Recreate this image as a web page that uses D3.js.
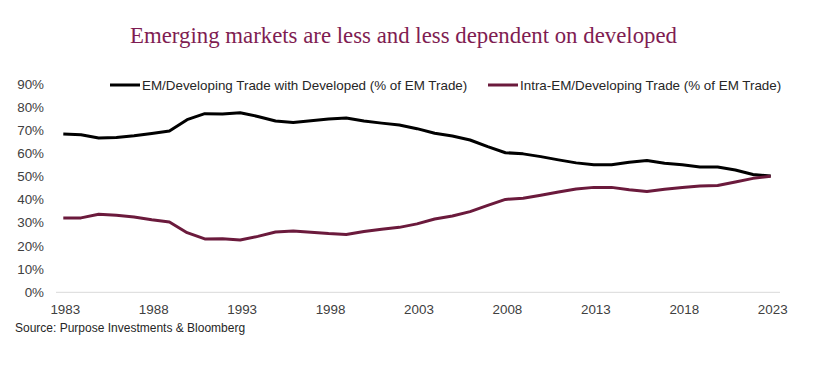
<!DOCTYPE html>
<html><head><meta charset="utf-8">
<script src="https://cdn.jsdelivr.net/npm/d3@7"></script>
<style>body{margin:0;background:#fff}svg{display:block}</style>
</head><body>
<svg id="c" width="825" height="366"></svg>
<script>
const years = d3.range(1983, 2024);
const devShare = [68.5,68.2,66.8,67.0,67.7,68.7,69.8,74.7,77.3,77.1,77.7,76.1,74.1,73.5,74.2,75.0,75.4,74.1,73.2,72.4,70.8,68.8,67.6,65.9,63.0,60.4,59.9,58.7,57.3,56.0,55.2,55.2,56.3,57.0,55.8,55.2,54.2,54.2,52.9,51.0,50.3];
const intraShare = [32.2,32.2,33.8,33.3,32.6,31.4,30.4,25.8,23.1,23.2,22.6,24.2,26.1,26.5,26.0,25.4,25.0,26.3,27.3,28.1,29.6,31.7,33.0,34.9,37.6,40.2,40.7,42.0,43.4,44.7,45.4,45.4,44.4,43.6,44.6,45.3,46.0,46.2,47.7,49.3,50.2];
const yTicks = [0,10,20,30,40,50,60,70,80,90];
const xTicks = [1983,1988,1993,1998,2003,2008,2013,2018,2023];
const seriesNames = ["EM/Developing Trade with Developed (% of EM Trade)","Intra-EM/Developing Trade (% of EM Trade)"];
const title = "Emerging markets are less and less dependent on developed";
const source = "Source: Purpose Investments & Bloomberg";

const svg = d3.select("#c");
const x = d3.scaleLinear().domain([1983,2023]).range([63.3,770.7]);
const y = d3.scaleLinear().domain([0,90]).range([292.3,84.3]);

svg.append("text").attr("x",403.5).attr("y",43).attr("text-anchor","middle")
  .attr("font-family","'Liberation Serif', 'DejaVu Serif', serif").attr("font-size",22.5)
  .attr("textLength",547).attr("lengthAdjust","spacingAndGlyphs")
  .attr("fill","#7f1d52").text(title);

// baseline
svg.append("line").attr("x1",56).attr("x2",780).attr("y1",y(0)).attr("y2",y(0)).attr("stroke","#d9d9d9").attr("stroke-width",1);

const font = "'Liberation Sans', Arial, sans-serif";
const yAxis = svg.append("g");
yAxis.selectAll("text").data(yTicks).join("text")
  .attr("x",44).attr("y",d=>y(d)+4.5).attr("text-anchor","end")
  .attr("font-family",font).attr("font-size",13.4).attr("fill","#404040").text(d=>d+"%");
const xAxis = svg.append("g");
xAxis.selectAll("text").data(xTicks).join("text")
  .attr("x",d=>x(d)+2).attr("y",314).attr("text-anchor","middle")
  .attr("font-family",font).attr("font-size",13.4).attr("fill","#404040").text(d=>d);

const colors = ["#000000","#6b1a3c"];
const line = d3.line().x((d,i)=>x(years[i])).y(d=>y(d)).curve(d3.curveLinear);
[devShare,intraShare].forEach((s,k)=>{
  svg.append("path").attr("d",line(s)).attr("fill","none").attr("stroke",colors[k])
    .attr("stroke-width",3).attr("stroke-linejoin","round");
});

// legend
const leg = [{x:110,w:30},{x:488,w:30}];
leg.forEach((l,k)=>{
  svg.append("line").attr("x1",l.x).attr("x2",l.x+l.w).attr("y1",85).attr("y2",85).attr("stroke",colors[k]).attr("stroke-width",3);
  svg.append("text").attr("x",l.x+l.w+2).attr("y",90).attr("font-family",font).attr("font-size",13.4).attr("fill","#262626").text(seriesNames[k]);
});

svg.append("text").attr("x",15).attr("y",332).attr("font-family",font).attr("font-size",12).attr("fill","#262626").text(source);
</script>
</body></html>
